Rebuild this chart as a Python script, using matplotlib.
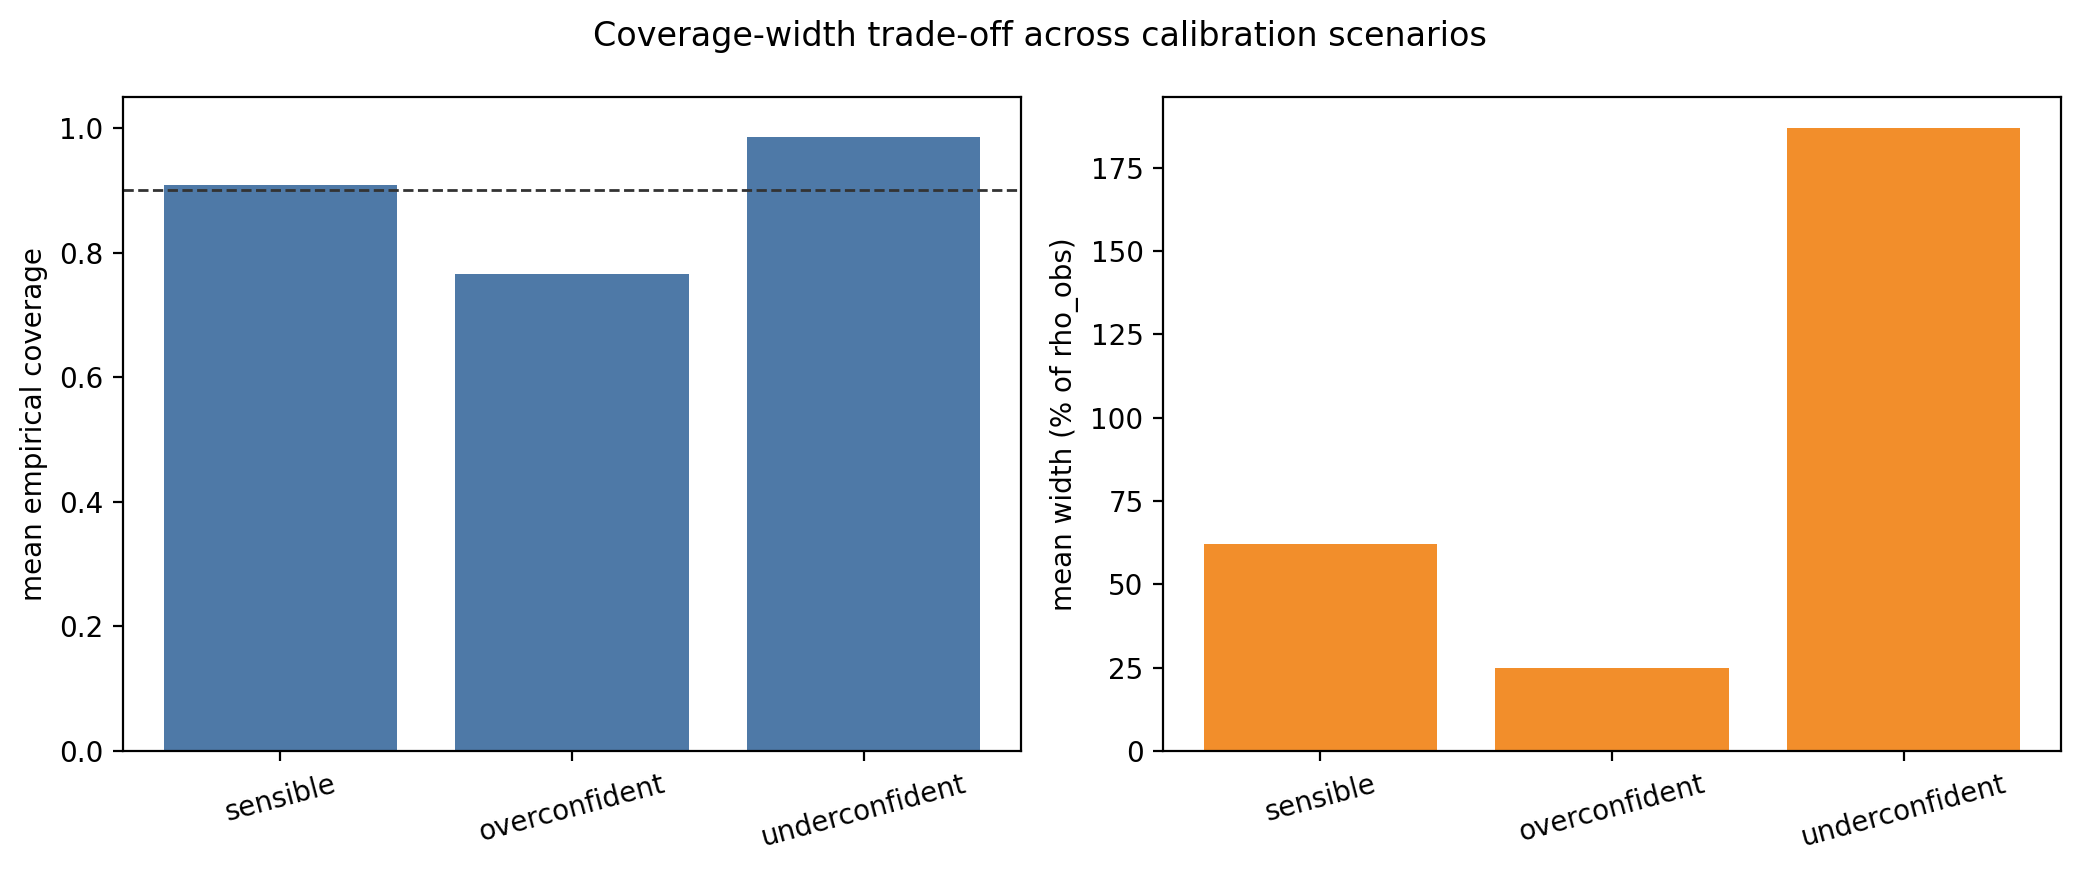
import matplotlib
matplotlib.use("Agg")
import matplotlib.pyplot as plt

scenarios = ["sensible", "overconfident", "underconfident"]
coverage = [0.908, 0.766, 0.985]
width_pct = [62.0, 24.8, 187.0]
target = 0.90

fig, (ax1, ax2) = plt.subplots(1, 2, figsize=(10.4, 4.36), dpi=200)
fig.subplots_adjust(left=0.059, right=0.991, top=0.889, bottom=0.139, wspace=0.158)

ax1.bar(scenarios, coverage, color="#4e79a7")
ax1.axhline(target, color="#333333", linestyle="--", linewidth=1)
ax1.set_ylabel("mean empirical coverage")
ax1.set_ylim(0, 1.05)
ax1.tick_params(axis="x", labelrotation=15)

ax2.bar(scenarios, width_pct, color="#f28e2b")
ax2.set_ylabel("mean width (% of rho_obs)")
ax2.tick_params(axis="x", labelrotation=15)

fig.suptitle("Coverage-width trade-off across calibration scenarios", fontsize=12, y=0.977)
fig.savefig("out.png", dpi=200)
